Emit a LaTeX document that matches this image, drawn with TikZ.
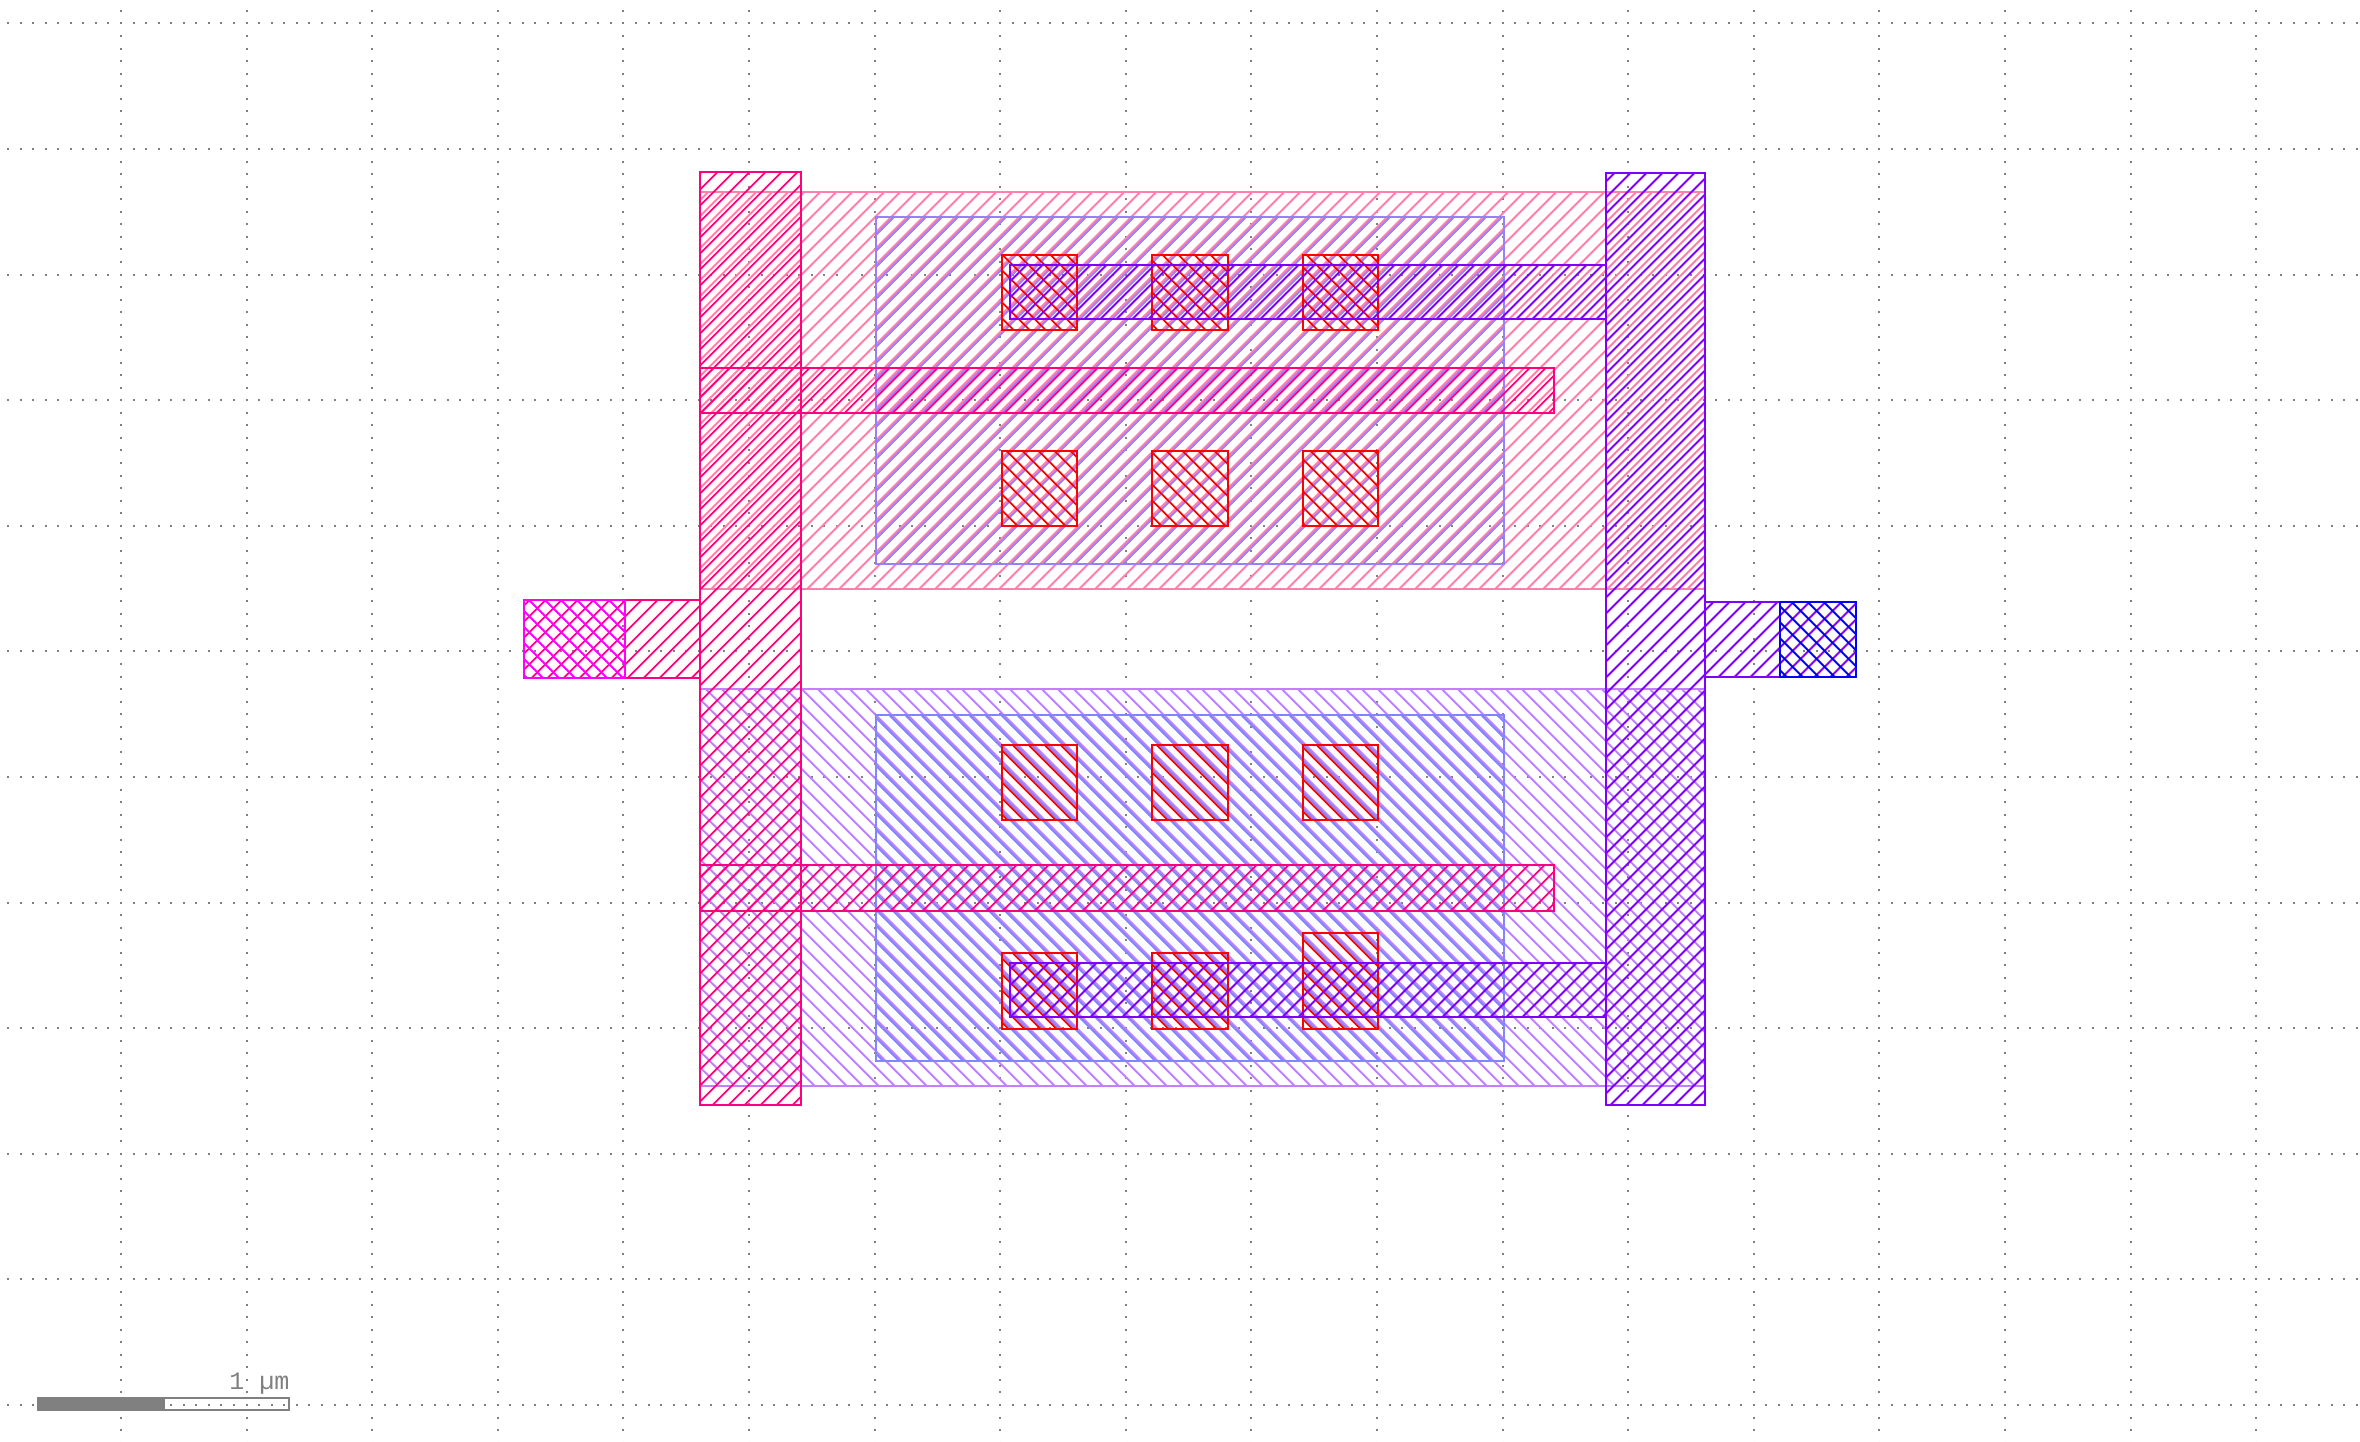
\documentclass[tikz,border=0pt]{standalone}
\usepackage{fontspec}
\newfontfamily\scalefont{Liberation Mono}
\usepackage{xcolor}
\definecolor{Cnw}{HTML}{FF80A8}
\definecolor{Cpw}{HTML}{C080FF}
\definecolor{Cat}{HTML}{9580FF}
\definecolor{Cab}{HTML}{8086FF}
\definecolor{Cpo}{HTML}{FF0080}
\definecolor{Cme}{HTML}{8000FF}
\definecolor{Cct}{HTML}{FF0000}
\definecolor{Cpa}{HTML}{FF00FF}
\definecolor{Cpb}{HTML}{0000FF}
\definecolor{Cgd}{HTML}{808080}
\tikzset{
  griddot/.style = {Cgd, line width=2pt, dash pattern=on 2pt off 10.56pt},
  hatchln/.style = {line width=1.9pt},
  edgeln/.style  = {line width=2pt},
}
% one layer rectangle: x1,y1,x2,y2,colour,slope sign,stipple phase
\newcommand{\hatchbox}[7]{
  \pgfmathtruncatemacro{\kmin}{floor((#1+min(#6*#2,#6*#4)-#7)/16)}
  \pgfmathtruncatemacro{\kmax}{ceil((#3+max(#6*#2,#6*#4)-#7)/16)}
  \begin{scope}
    \clip (#1,#2) rectangle (#3,#4);
    \foreach \k in {\kmin,...,\kmax}
      \draw[hatchln, #5] ({#7+16*\k-#6*(#2)},#2) -- ({#7+16*\k-#6*(#4)},#4);
  \end{scope}
  \draw[edgeln, #5] (#1,#2) rectangle (#3,#4);
}

\begin{document}
\begin{tikzpicture}[x=1pt, y=-1pt]
\useasboundingbox (0,0) rectangle (2360,1442);

%%──────────────────────────────────────────────────
%% Dotted grid
%%──────────────────────────────────────────────────
\foreach \i in {0,...,17}
  \draw[griddot] ({121+125.6*\i},9.84) -- ({121+125.6*\i},1442);
\foreach \j in {0,...,11}
  \draw[griddot] (6.96,{23.4+125.6*\j}) -- (2360,{23.4+125.6*\j});

%%──────────────────────────────────────────────────
%% Wells
%%──────────────────────────────────────────────────
\hatchbox{700}{192.3}{1705}{589}{Cnw}{1}{4.3}
\hatchbox{700}{689}{1705}{1086}{Cpw}{-1}{0.8}

%%──────────────────────────────────────────────────
%% Active areas
%%──────────────────────────────────────────────────
\hatchbox{876}{216.7}{1503.5}{564}{Cat}{1}{7}
\hatchbox{876}{715}{1503.5}{1061}{Cab}{-1}{14.2}

%%──────────────────────────────────────────────────
%% Gate bars and input stub
%%──────────────────────────────────────────────────
\hatchbox{700}{368}{1554}{412.7}{Cpo}{1}{9.6}
\hatchbox{700}{865}{1554}{910.7}{Cpo}{1}{9.6}
\hatchbox{524.3}{600}{700}{677.7}{Cpo}{1}{9.6}

%%──────────────────────────────────────────────────
%% Contacts: rows top to bottom
%%──────────────────────────────────────────────────
\foreach \xa/\xb in {1002/1077.3, 1152/1228, 1303/1378} {
  \hatchbox{\xa}{255}{\xb}{330}{Cct}{-1}{11.6}
  \hatchbox{\xa}{451}{\xb}{526}{Cct}{-1}{11.6}
  \hatchbox{\xa}{745}{\xb}{820}{Cct}{-1}{11.6}
}
\hatchbox{1002}{953.3}{1077.3}{1029}{Cct}{-1}{11.6}
\hatchbox{1152}{953.3}{1228}{1029}{Cct}{-1}{11.6}
\hatchbox{1303}{932.7}{1378}{1029}{Cct}{-1}{11.6}

%%──────────────────────────────────────────────────
%% Metal: straps, rails, output stub
%%──────────────────────────────────────────────────
\hatchbox{1010}{265}{1606}{319}{Cme}{1}{11.5}
\hatchbox{1010}{963.3}{1606}{1016.7}{Cme}{1}{11.5}
\hatchbox{700}{171.7}{800.7}{1105}{Cpo}{1}{9.6}
\hatchbox{1605.7}{173.5}{1705}{1105}{Cme}{1}{11.5}
\hatchbox{1705}{602.3}{1856}{676.7}{Cme}{1}{11.5}

%%──────────────────────────────────────────────────
%% Pins
%%──────────────────────────────────────────────────
\hatchbox{524.3}{600}{625}{677.7}{Cpa}{-1}{9}
\hatchbox{1780}{602.3}{1856}{676.7}{Cpb}{-1}{5.7}

%%──────────────────────────────────────────────────
%% Scale bar
%%──────────────────────────────────────────────────
\fill[Cgd] (37,1397.3) rectangle (165,1410.7);
\draw[Cgd, edgeln] (38,1398.3) rectangle (288.7,1409.7);
\node[anchor=base east, inner sep=0pt, text=Cgd, font=\scalefont\fontsize{25}{25}\selectfont]
  (scalelabel) at (289.5,1389) {1 µm};

\end{tikzpicture}
\end{document}
